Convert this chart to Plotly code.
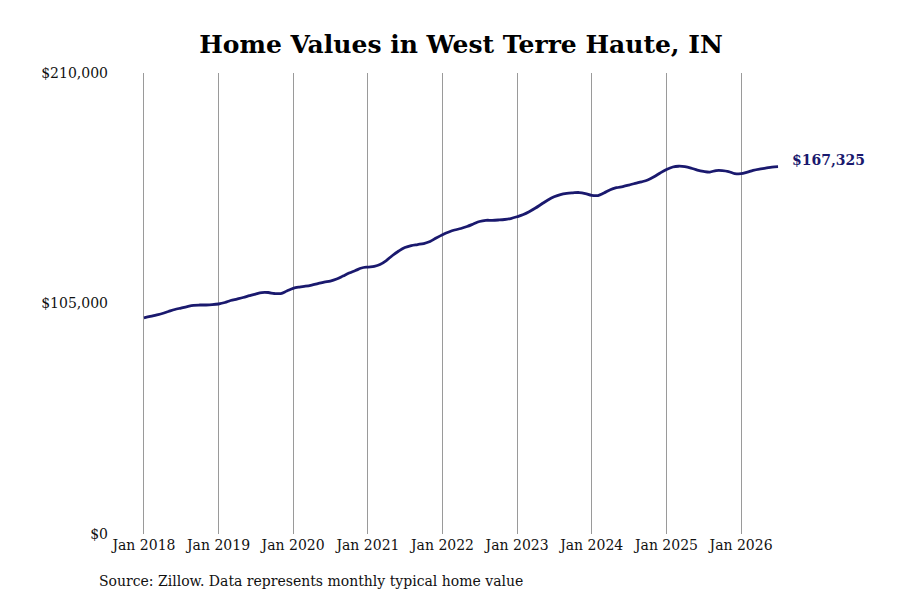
import pandas as pd
import plotly.graph_objects as go

# monthly typical home value, Jan 2018 .. Jul 2026
months = pd.date_range('2018-01-01', periods=103, freq='MS')
values = [
    98500, 99100, 99750, 100440, 101350, 102260, 102940, 103630, 104170, 104310, 104310, 104450,
    104770, 105450, 106360, 107040, 107730, 108550, 109320, 110000, 110000, 109550, 109550, 110690,
    111920, 112510, 112870, 113420, 114100, 114790, 115240, 116150, 117520, 118890, 120030, 121160,
    121620, 121940, 122760, 124580, 126860, 128910, 130500, 131410, 131870, 132320, 133230, 134830,
    136330, 137560, 138470, 139160, 140070, 141210, 142340, 142890, 142890, 143030, 143260, 143710,
    144530, 145530, 146810, 148490, 150320, 152140, 153600, 154640, 155190, 155420, 155550, 155100,
    154280, 154190, 155330, 156830, 157740, 158290, 158970, 159740, 160430, 161250, 162710, 164440,
    166030, 167170, 167530, 167350, 166710, 165800, 165210, 164890, 165570, 165570, 165120, 164210,
    164120, 164890, 165670, 166260, 166620, 167170, 167325,
]

y_ticks = [0, 105000, 210000]
y_labels = ['$0', '$105,000', '$210,000']

navy = '#1a196e'
font = 'DejaVu Serif'

fig = go.Figure()
fig.add_trace(go.Scatter(x=months, y=values, mode='lines',
                         line=dict(color=navy, width=2.8, shape='spline'),
                         hoverinfo='skip'))

fig.add_annotation(x=months[-1], y=values[-1], text=f'<b>${values[-1]:,}</b>',
                   showarrow=False, xanchor='left', xshift=12, yshift=7,
                   font=dict(family=font, size=14, color=navy))

fig.add_annotation(xref='paper', yref='paper', x=-0.018, y=-0.102,
                   text='Source: Zillow. Data represents monthly typical home value',
                   showarrow=False, xanchor='left', yanchor='middle',
                   font=dict(family=font, size=14, color='#111'))

fig.update_layout(
    width=900, height=600,
    paper_bgcolor='white', plot_bgcolor='white',
    margin=dict(l=101, r=123, t=65, b=74),
    showlegend=False,
    font=dict(family=font, size=14, color='#111'),
    title=dict(text='<b>Home Values in West Terre Haute, IN</b>',
               x=453 / 900, xanchor='center', y=1 - 36 / 600, yanchor='middle',
               font=dict(family=font, size=25, color='black')),
    xaxis=dict(range=['2017-07-14', '2026-08-04'], tick0='2018-01-01', dtick='M12',
               tickformat='%b %Y', showgrid=True, gridcolor='#9a9a9a', gridwidth=1,
               zeroline=False, showline=False, ticks='', ticklabelstandoff=1),
    yaxis=dict(range=[0, 210000], tickvals=y_ticks, ticktext=y_labels,
               showgrid=False, zeroline=False, showline=False, ticks=''),
)

fig.write_html('out.html')
